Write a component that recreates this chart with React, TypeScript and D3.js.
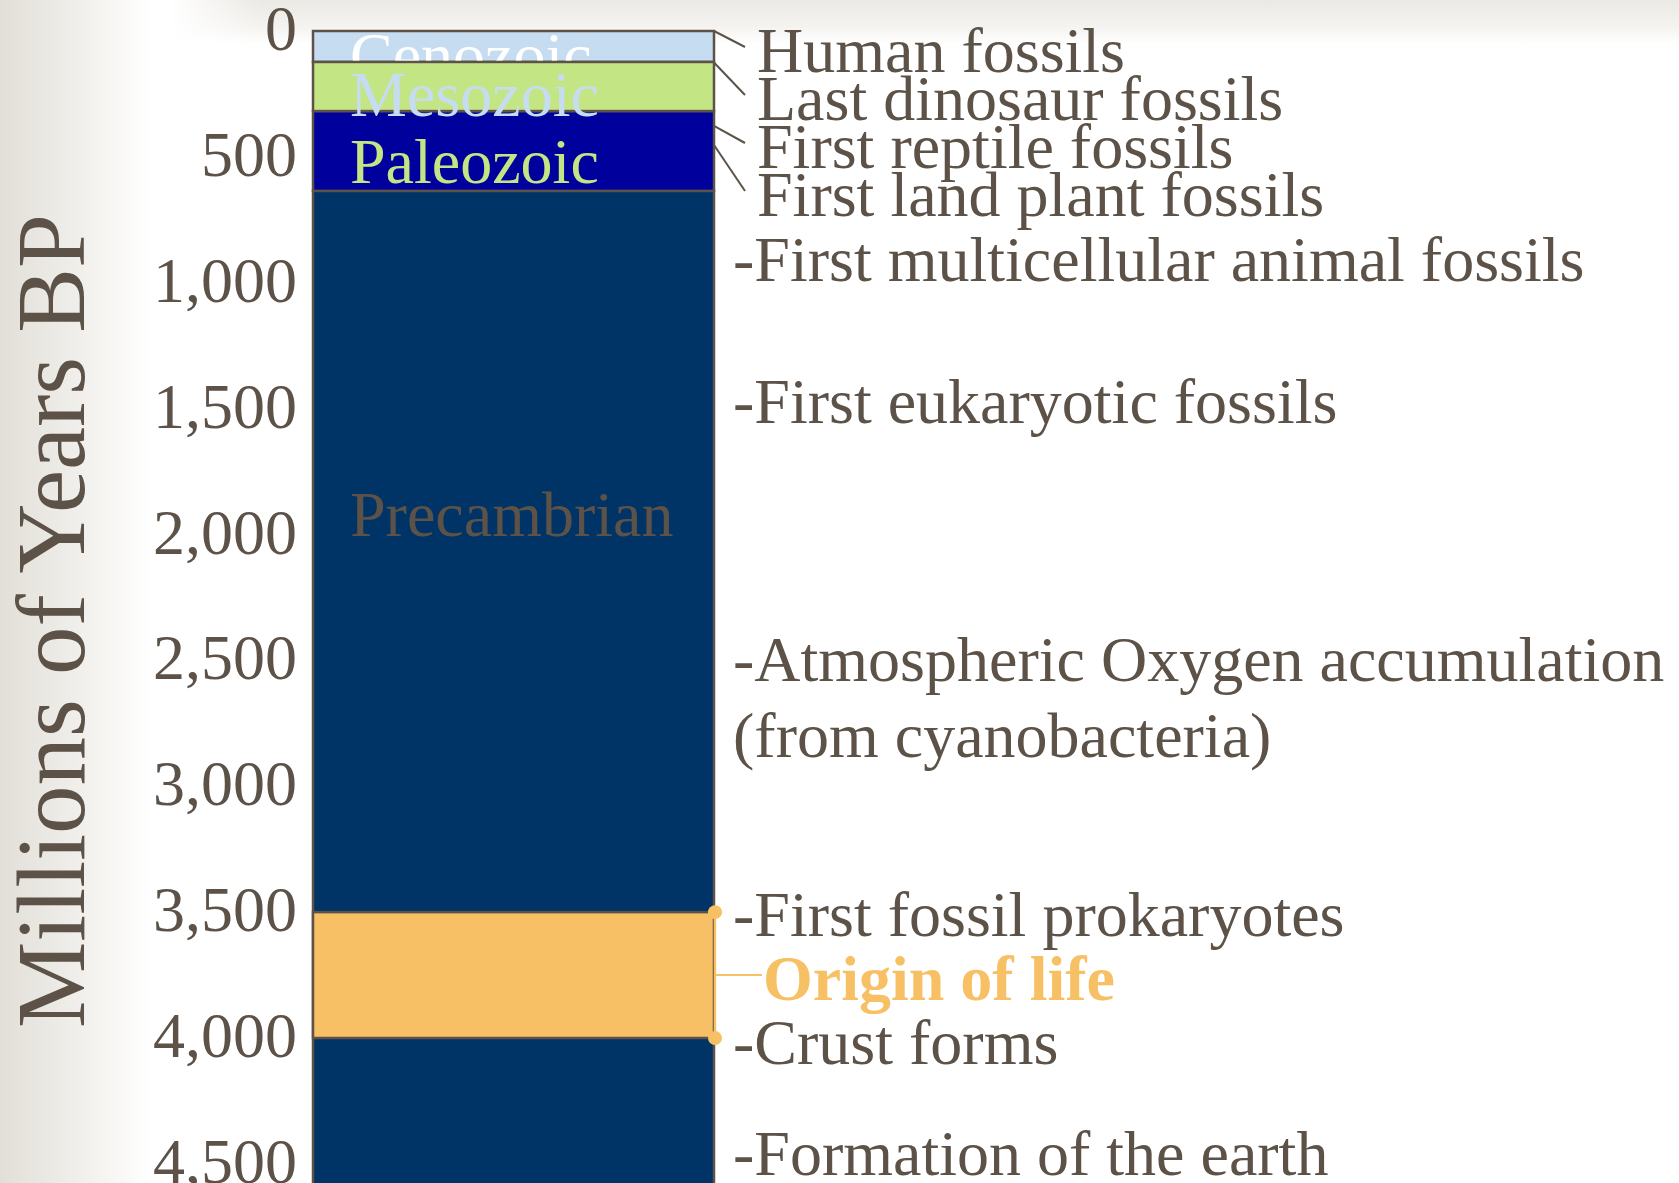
import * as d3 from "d3";

// eras (picture-read ages, Myr BP)
const eraNames = ["Cenozoic", "Mesozoic", "Paleozoic", "Precambrian"];
const eraStart = [0, 123, 318, 635];
const eraEnd = [123, 318, 635, 4600];
const eraFill = ["#c6dcf0", "#c4e584", "#00009c", "#003366"];
const eraText = ["#ffffff", "#c6dcf0", "#c4e584", "#5c5248"];

const tickValues = [0, 500, 1000, 1500, 2000, 2500, 3000, 3500, 4000, 4500];

const topEvents = ["Human fossils", "Last dinosaur fossils", "First reptile fossils", "First land plant fossils"];
const topEventAges = [0, 125, 377, 453];

const sideEvents = [
  ["-First multicellular animal fossils"],
  ["-First eukaryotic fossils"],
  ["-Atmospheric Oxygen accumulation", "(from cyanobacteria)"],
  ["-First fossil prokaryotes"],
  ["-Crust forms"],
  ["-Formation of the earth"],
];
const sideEventAges = [910, 1475, 2500, 3510, 4020, 4460];

const originRange = [3500, 4000];
const originLabel = "Origin of life";

const W = 1679;
const H = 1183;
const ink = "#5c5248";
const orange = "#f8c064";
const font = "'Liberation Serif', 'Times New Roman', serif";

const App = () => {
  const y = d3.scaleLinear().domain([0, 4000]).range([31, 1038]);
  const x = d3.scaleBand().domain(["earth"]).range([313, 714]).padding(0);
  const x0 = x("earth");
  const bw = x.bandwidth();
  const x1 = x0 + bw;

  const eraRect = (i) => (
    <rect
      key={"r" + i}
      x={x0}
      y={y(eraStart[i])}
      width={bw}
      height={y(eraEnd[i]) - y(eraStart[i])}
      fill={eraFill[i]}
      stroke={ink}
      strokeWidth={2.5}
    />
  );
  const eraLabel = (i, base) => (
    <text key={"t" + i} x={x0 + 37} y={base} fill={eraText[i]} fontSize={64}>
      {eraNames[i]}
    </text>
  );
  // baselines of era labels, offset from era top
  const eraBase = [y(eraStart[0]) + 46, y(eraStart[1]) + 54, y(eraStart[2]) + 72, 536];

  const oy0 = y(originRange[0]);
  const oy1 = y(originRange[1]);
  const oMid = y((originRange[0] + originRange[1]) / 2);

  return (
    <svg
      width={W}
      height={H}
      style={{ position: "absolute", left: 0, top: 0, display: "block" }}
      fontFamily={font}
    >
      <defs>
        <linearGradient id="leftG" x1="0" x2="1" y1="0" y2="0">
          <stop offset="0" stopColor="#e2dfd8" />
          <stop offset="0.5" stopColor="#f0eeea" />
          <stop offset="1" stopColor="#ffffff" />
        </linearGradient>
        <linearGradient id="topG" x1="0" x2="0" y1="0" y2="1">
          <stop offset="0" stopColor="#ebe9e4" />
          <stop offset="0.6" stopColor="#f4f3f0" />
          <stop offset="1" stopColor="#ffffff" />
        </linearGradient>
        <linearGradient id="topMaskG" gradientUnits="userSpaceOnUse" x1="170" x2="260" y1="0" y2="0">
          <stop offset="0" stopColor="#000" />
          <stop offset="1" stopColor="#fff" />
        </linearGradient>
        <mask id="topMask">
          <rect x={0} y={0} width={W} height={50} fill="url(#topMaskG)" />
        </mask>
      </defs>
      <rect x={0} y={0} width={W} height={H} fill="#ffffff" />
      <rect x={0} y={0} width={W} height={44} fill="url(#topG)" mask="url(#topMask)" />
      <rect x={0} y={0} width={150} height={H} fill="url(#leftG)" />

      {/* axis title */}
      <text
        transform={`translate(84, 621) rotate(-90)`}
        textAnchor="middle"
        fontSize={97}
        fill={ink}
      >
        Millions of Years BP
      </text>

      {/* tick labels */}
      {tickValues.map((v) => (
        <text key={v} x={297} y={y(v) + 19} textAnchor="end" fontSize={64} fill={ink}>
          {d3.format(",")(v)}
        </text>
      ))}

      {/* eras */}
      {eraRect(3)}
      {eraRect(2)}
      {eraRect(0)}
      {eraLabel(0, eraBase[0])}
      {eraRect(1)}
      {eraLabel(1, eraBase[1])}
      {eraLabel(2, eraBase[2])}
      {eraLabel(3, eraBase[3])}

      {/* origin of life band */}
      <rect x={x0} y={oy0} width={bw} height={oy1 - oy0} fill={orange} stroke={ink} strokeWidth={2.5} />
      <line x1={x1 + 1} x2={x1 + 1} y1={oy0} y2={oy1} stroke={orange} strokeWidth={2.5} />
      <circle cx={x1 + 1} cy={oy0} r={7} fill={orange} />
      <circle cx={x1 + 1} cy={oy1} r={7} fill={orange} />
      <line x1={x1} x2={762} y1={oMid} y2={oMid} stroke={orange} strokeWidth={2} />
      <text x={763} y={oMid + 25} fontSize={64} fontWeight="bold" fill={orange}>
        {originLabel}
      </text>

      {/* top events with leaders */}
      {topEvents.map((t, i) => {
        const base = 72 + i * 48;
        return (
          <g key={t}>
            <line x1={x1} y1={y(topEventAges[i])} x2={745} y2={base - 25} stroke={ink} strokeWidth={2} />
            <text x={757} y={base} fontSize={64} fill={ink}>
              {t}
            </text>
          </g>
        );
      })}

      {/* side events */}
      {sideEvents.map((lines, i) => (
        <text key={lines[0]} x={733} y={y(sideEventAges[i]) + 21} fontSize={64} fill={ink}>
          {lines.map((l, j) => (
            <tspan key={l} x={733} dy={j === 0 ? 0 : 76}>
              {l}
            </tspan>
          ))}
        </text>
      ))}
    </svg>
  );
};

export default App;
